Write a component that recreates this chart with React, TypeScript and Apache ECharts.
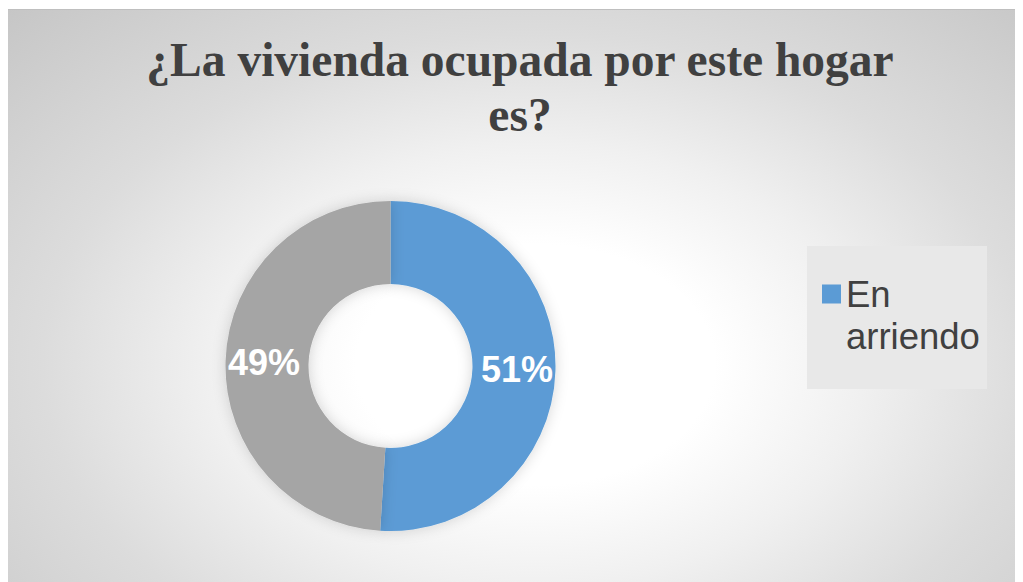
import React, { useEffect, useRef } from "react";
import * as echarts from "echarts";

const titleLines = ["¿La vivienda ocupada por este hogar", "es?"];
const categories = ["En arriendo", "Otra"];
const values = [51, 49];
const colors = ["#5B9BD5", "#A5A5A5"];
const legendItems = ["En arriendo"];

export default function App() {
  const ref = useRef<HTMLDivElement>(null);
  useEffect(() => {
    if (!ref.current) return;
    const chart = echarts.init(ref.current, undefined, { renderer: "svg" });
    chart.setOption({
      animation: false,
      backgroundColor: "transparent",
      title: {
        text: titleLines.join("\n"),
        left: 513,
        top: 22,
        textAlign: "center",
        padding: 0,
        textStyle: {
          fontFamily: "Liberation Serif",
          fontWeight: "bold",
          fontSize: 47.5,
          lineHeight: 55,
          color: "#404040",
        },
      },
      graphic: [
        {
          type: "rect",
          left: 800,
          top: 236,
          shape: { width: 180, height: 143 },
          style: { fill: "#e8e8e8" },
          z: -1,
        },
      ],
      legend: {
        data: legendItems,
        left: 815,
        top: 221,
        padding: 0,
        orient: "vertical",
        icon: "rect",
        itemWidth: 19,
        itemHeight: 19,
        selectedMode: false,
        formatter: (name: string) => " \n" + name.replace(" ", "\n"),
        textStyle: {
          fontFamily: "Liberation Sans",
          fontSize: 36.5,
          lineHeight: 42,
          color: "#404040",
        },
      },
      series: [
        {
          type: "pie",
          center: [383.5, 356],
          radius: [82, 165],
          startAngle: 90,
          clockwise: true,
          avoidLabelOverlap: false,
          silent: true,
          itemStyle: {
            shadowBlur: 14,
            shadowColor: "rgba(0,0,0,0.16)",
          },
          label: {
            show: true,
            position: "inside",
            formatter: "{c}%",
            color: "#ffffff",
            fontFamily: "Liberation Sans",
            fontWeight: "bold",
            fontSize: 36,
          },
          labelLine: { show: false },
          data: categories.map((c, i) => ({
            name: c,
            value: values[i],
            itemStyle: { color: colors[i] },
          })),
        },
      ],
    });
    return () => chart.dispose();
  }, []);
  return (
    <div
      ref={ref}
      style={{
        width: 1016,
        height: 573,
        marginLeft: -1,
        marginTop: 1,
        borderTop: "1px solid #bfbfbf",
        boxSizing: "border-box",
        background:
          "radial-gradient(ellipse farthest-corner at 52% 62%, #ffffff 0%, #ffffff 24%, #f0f0f0 44%, #dcdcdc 66%, #c6c6c6 100%)",
      }}
    />
  );
}
